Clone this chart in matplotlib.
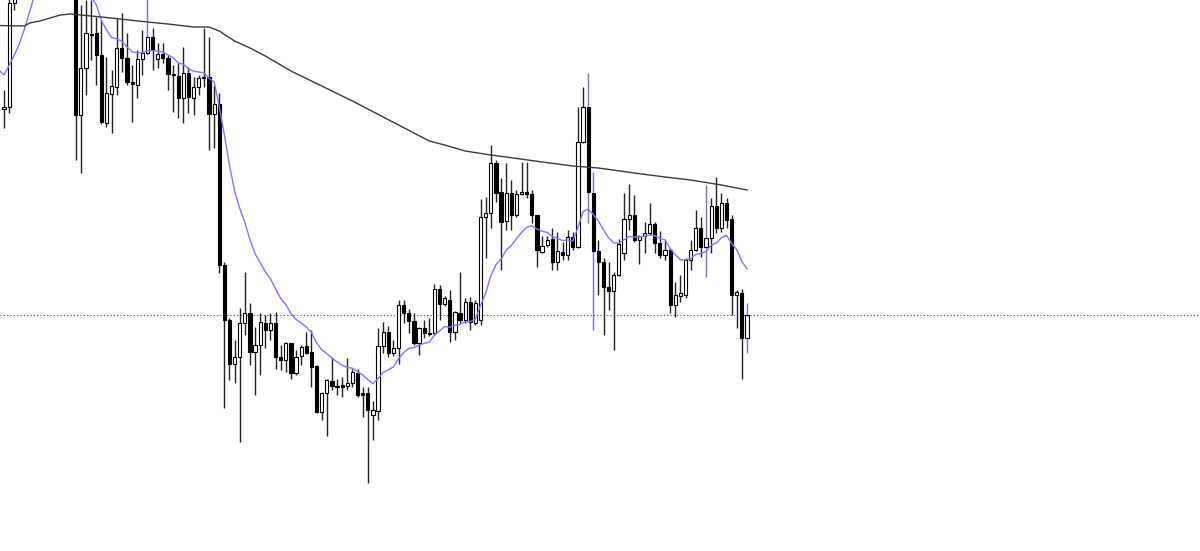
import numpy as np
import pandas as pd
import matplotlib
matplotlib.use("Agg")
import matplotlib.pyplot as plt

# price in chart points, one entry per bar (bars 3..13 run above the visible area)
opens = [491, 493, 597, 610, 630, 670, 700, 715, 725, 720,
         710, 700, 680, 650, 620, 485, 532, 566, 567, 545,
         477, 506, 513, 552, 542, 518, 515, 541, 547, 563,
         541, 546, 542, 526, 524, 502, 527, 502, 513, 523,
         523, 486, 496, 335, 280, 236, 243, 277, 287, 248,
         255, 277, 270, 277, 243, 240, 257, 227, 244, 254,
         248, 234, 188, 207, 219, 214, 215, 214, 217, 227,
         207, 207, 185, 189, 254, 268, 247, 252, 295, 287,
         279, 257, 272, 267, 267, 311, 296, 300, 268, 287,
         280, 298, 277, 280, 383, 387, 437, 408, 379, 407,
         385, 406, 408, 406, 385, 348, 355, 361, 338, 348,
         345, 363, 353, 458, 493, 407, 349, 338, 313, 309,
         325, 347, 381, 385, 360, 364, 367, 376, 357, 345,
         350, 295, 304, 305, 340, 350, 372, 353, 362, 394,
         372, 397, 381, 305, 307, 262]
highs = [510, 603, 620, 640, 678, 710, 725, 738, 735, 728,
         718, 708, 688, 658, 625, 595, 600, 600, 583, 580,
         543, 530, 582, 587, 567, 535, 550, 570, 602, 572,
         557, 557, 545, 535, 537, 553, 533, 523, 525, 572,
         563, 515, 507, 338, 282, 260, 292, 328, 297, 273,
         287, 285, 287, 288, 255, 258, 257, 250, 255, 268,
         270, 235, 208, 221, 243, 221, 223, 242, 231, 231,
         213, 213, 199, 272, 278, 274, 260, 300, 300, 291,
         287, 273, 280, 282, 316, 315, 304, 310, 289, 328,
         302, 303, 300, 401, 403, 455, 440, 422, 437, 420,
         410, 438, 438, 410, 385, 364, 364, 372, 368, 358,
         370, 368, 493, 513, 527, 428, 360, 342, 338, 328,
         361, 407, 416, 405, 365, 378, 397, 378, 369, 360,
         352, 318, 325, 342, 360, 390, 383, 415, 402, 423,
         407, 402, 385, 310, 311, 297]
lows = [472, 487, 590, 604, 622, 660, 692, 705, 708, 698,
        690, 672, 640, 610, 440, 427, 505, 540, 515, 476,
        473, 467, 505, 528, 515, 478, 502, 525, 545, 530,
        532, 537, 510, 488, 482, 477, 487, 485, 505, 513,
        450, 452, 327, 192, 220, 217, 158, 265, 235, 205,
        225, 252, 260, 231, 230, 228, 221, 225, 235, 246,
        213, 187, 180, 164, 210, 205, 203, 210, 213, 203,
        183, 117, 160, 180, 247, 243, 244, 236, 277, 267,
        255, 245, 262, 264, 265, 280, 294, 258, 260, 277,
        277, 270, 275, 275, 342, 372, 398, 330, 370, 370,
        383, 405, 402, 377, 333, 347, 353, 330, 330, 340,
        340, 350, 352, 457, 377, 270, 305, 265, 290, 250,
        324, 340, 370, 358, 336, 347, 365, 347, 342, 340,
        287, 283, 298, 302, 330, 349, 343, 323, 347, 367,
        368, 372, 285, 272, 221, 247]
closes = [493, 597, 610, 630, 670, 700, 715, 725, 720, 710,
          700, 680, 650, 620, 485, 532, 567, 565, 545, 478,
          507, 514, 552, 542, 518, 516, 541, 547, 563, 550,
          546, 542, 526, 525, 502, 527, 503, 513, 522, 522,
          486, 496, 335, 280, 236, 243, 277, 287, 248, 255,
          278, 270, 277, 243, 240, 257, 227, 243, 253, 247,
          233, 188, 207, 220, 214, 213, 213, 217, 228, 205,
          205, 190, 190, 254, 268, 247, 252, 295, 287, 279,
          257, 272, 267, 266, 311, 296, 302, 268, 288, 280,
          298, 278, 297, 383, 387, 437, 407, 378, 407, 385,
          406, 408, 406, 385, 350, 354, 360, 338, 349, 345,
          363, 353, 458, 493, 408, 349, 338, 313, 309, 325,
          356, 381, 385, 360, 364, 367, 376, 357, 345, 350,
          295, 305, 307, 340, 350, 372, 353, 362, 394, 372,
          397, 380, 305, 308, 262, 285]

# fast average: EMA(14) of closes, starting level read at the left edge
ema_period = 14
ema_start = 530

# slow average (bar index, level)
slow_idx = [-1, 4, 5, 7, 9, 11, 13, 19, 28, 32, 37, 40, 42, 45, 48, 51, 53,
            56, 68, 77, 83, 86, 90, 95, 98, 105, 111, 116, 123, 129, 134, 140, 145]
slow_ma = [574.5, 574, 577, 579, 582, 585, 586, 583, 578, 576, 573, 573, 569,
           559, 552, 544, 538, 529, 499, 475, 459, 455, 449, 445, 443, 438, 434,
           432, 427, 423, 420, 415, 410]

blue_wicks = [28, 114, 115, 137, 145]

o = np.array(opens, float)
h = np.array(highs, float)
l = np.array(lows, float)
c = np.array(closes, float)
x = np.arange(len(o))

ema = pd.Series([ema_start] + closes, dtype=float).ewm(span=ema_period, adjust=False).mean()

fig = plt.figure(figsize=(12, 5.51), dpi=100)
ax = fig.add_axes([0, 0, 1, 1])
ax.set_xlim(-0.78, 233.4)
ax.set_ylim(49, 600)
ax.axis("off")

wick_cols = ["#7070e8" if i in blue_wicks else "#222222" for i in x]
ax.vlines(x, l, h, colors=wick_cols, linewidth=1.0, zorder=1)

up = c >= o
body_h = np.maximum(np.abs(c - o), 0.8)
ax.bar(x, body_h, bottom=np.minimum(o, c), width=0.62,
       color=np.where(up, "white", "black"), edgecolor="black",
       linewidth=0.8, zorder=2)

ax.plot(np.arange(-1, len(c)), ema.values, color="#7878ff", linewidth=1.0, zorder=3)
ax.plot(slow_idx, slow_ma, color="#3a3a3a", linewidth=1.0, zorder=3)

ax.axhline(closes[-1], color="#444444", linewidth=0.8, linestyle=(0, (1, 2)), zorder=0)

fig.savefig("out.png", dpi=100)
